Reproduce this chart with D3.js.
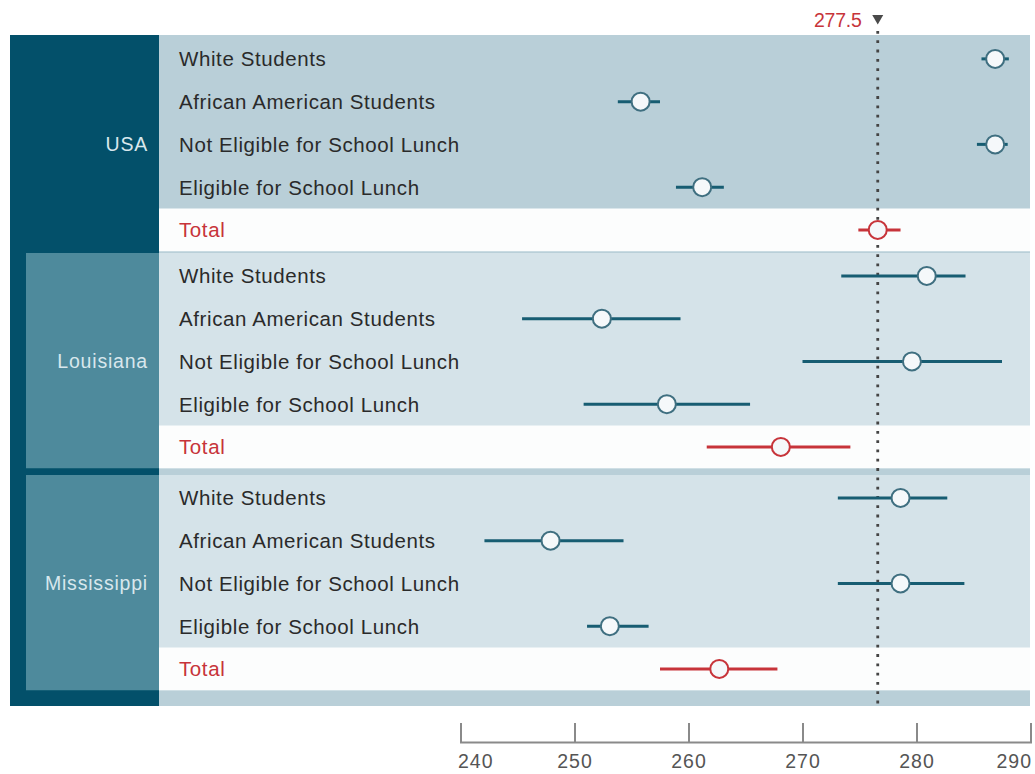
<!DOCTYPE html>
<html>
<head>
<meta charset="utf-8">
<script src="https://cdn.jsdelivr.net/npm/d3@7"></script>
<style>
  html, body { margin: 0; padding: 0; background: #ffffff; }
  svg { display: block; font-family: "Liberation Sans", Arial, sans-serif; }
</style>
</head>
<body>
<svg id="chart" width="1035" height="774"></svg>
<script>
// ---- data ----
const groups = ["USA", "Louisiana", "Mississippi"];
const categories = ["White Students", "African American Students", "Not Eligible for School Lunch", "Eligible for School Lunch", "Total"];

const usaMean = [286.9, 255.8, 286.9, 261.2, 276.6];
const usaLow  = [285.7, 253.8, 285.3, 258.9, 274.9];
const usaHigh = [288.1, 257.5, 288.0, 263.1, 278.6];

const laMean = [280.9, 252.4, 279.6, 258.1, 268.1];
const laLow  = [273.4, 245.4, 270.0, 250.8, 261.6];
const laHigh = [284.3, 259.3, 287.5, 265.4, 274.2];

const msMean = [278.6, 247.9, 278.6, 253.1, 262.7];
const msLow  = [273.1, 242.1, 273.1, 251.1, 257.5];
const msHigh = [282.7, 254.3, 284.2, 256.5, 267.8];

const tickValues = [240, 250, 260, 270, 280, 290];
const refValue = 276.6;      // position of the dotted reference line as drawn
const refLabel = "277.5";

// ---- layout ----
const svg = d3.select("#chart");
const rowH = 42.75;
const sectionTops = [37.5, 254.5, 476.5];
const panelLeft = 10, labelColRight = 159, plotRight = 1030;
const panelTop = 35, panelBottom = 706;
const FS = 20.5, LS = 0.6;

const C = {
  dark: "#03506a",
  inner: "#4e8a9c",
  usaBg: "#b9cfd8",
  lightBg: "#d5e3e9",
  totalBg: "#fcfdfd",
  teal: "#175d72",
  tealStroke: "#3f6f80",
  red: "#c7343a",
  text: "#2a2a2a",
  axis: "#8a8a8a",
  axisText: "#555"
};

const x = d3.scaleLinear().domain([240, 290]).range([460.5, 1030.5]);

const series = [
  { mean: usaMean, low: usaLow, high: usaHigh },
  { mean: laMean,  low: laLow,  high: laHigh },
  { mean: msMean,  low: msLow,  high: msHigh }
];

const yScales = sectionTops.map(t => d3.scaleBand().domain(categories).range([t, t + rowH * categories.length]));

// ---- backgrounds ----
svg.append("rect").attr("x", panelLeft).attr("y", panelTop)
  .attr("width", labelColRight - panelLeft).attr("height", panelBottom - panelTop).attr("fill", C.dark);
svg.append("rect").attr("x", labelColRight).attr("y", panelTop)
  .attr("width", plotRight - labelColRight).attr("height", panelBottom - panelTop).attr("fill", C.usaBg);

groups.forEach((g, gi) => {
  const y = yScales[gi];
  const top = y.range()[0], bot = y.range()[1];
  if (gi > 0) {
    svg.append("rect").attr("x", 26).attr("y", top - 1.5)
      .attr("width", labelColRight - 26).attr("height", bot - top + 1.5).attr("fill", C.inner);
    svg.append("rect").attr("x", labelColRight).attr("y", top - 1.5)
      .attr("width", plotRight - labelColRight).attr("height", bot - top + 1.5).attr("fill", C.lightBg);
  }
  // total row
  svg.append("rect").attr("x", labelColRight).attr("y", y("Total"))
    .attr("width", plotRight - labelColRight).attr("height", y.bandwidth()).attr("fill", C.totalBg);

  // group label, centred on the middle row
  const mid = categories[2];
  svg.append("text")
    .attr("x", 148).attr("y", y(mid) + y.bandwidth() / 2)
    .attr("text-anchor", "end").attr("dominant-baseline", "central")
    .attr("font-size", 19.5).attr("letter-spacing", 0.8)
    .attr("fill", "#d8e7ed")
    .text(g);

  // category labels
  categories.forEach((c) => {
    svg.append("text")
      .attr("x", 179).attr("y", y(c) + y.bandwidth() / 2)
      .attr("dominant-baseline", "central")
      .attr("font-size", FS).attr("letter-spacing", LS)
      .attr("fill", c === "Total" ? C.red : C.text)
      .text(c);
  });
});

// ---- reference line ----
const rx = x(refValue);
svg.append("line").attr("x1", rx).attr("x2", rx).attr("y1", 31).attr("y2", 704)
  .attr("stroke", "#444").attr("stroke-width", 2.8).attr("stroke-dasharray", "2.8,6.5");
svg.append("path")
  .attr("d", d3.line()([[rx - 5.5, 15], [rx + 5.5, 15], [rx, 24.5]]) + "Z")
  .attr("fill", "#4a4a4a");
svg.append("text").attr("x", rx - 16).attr("y", 27)
  .attr("text-anchor", "end").attr("font-size", 19.5).attr("fill", C.red)
  .attr("letter-spacing", "-0.2")
  .text(refLabel);

// ---- error bars & points ----
groups.forEach((g, gi) => {
  const y = yScales[gi];
  const s = series[gi];
  categories.forEach((c, ci) => {
    const cy = y(c) + y.bandwidth() / 2;
    const isTotal = c === "Total";
    svg.append("line")
      .attr("x1", x(s.low[ci])).attr("x2", x(s.high[ci]))
      .attr("y1", cy).attr("y2", cy)
      .attr("stroke", isTotal ? C.red : C.teal).attr("stroke-width", 3);
    svg.append("circle")
      .attr("cx", x(s.mean[ci])).attr("cy", cy).attr("r", 9)
      .attr("fill", "#f5f8fa")
      .attr("stroke", isTotal ? C.red : C.tealStroke).attr("stroke-width", 2);
  });
});

// ---- axis ----
const axis = d3.axisBottom(x).tickValues(tickValues).tickFormat(d3.format("d"))
  .tickSizeInner(-19).tickSizeOuter(-19).tickPadding(12);
const ag = svg.append("g").attr("transform", "translate(0,742)").call(axis);
ag.selectAll("path, line").attr("stroke", C.axis).attr("stroke-width", 2);
ag.selectAll("text").attr("font-size", 19.5).attr("fill", C.axisText)
  .attr("letter-spacing", 1)
  .attr("font-family", "'Liberation Sans', Arial, sans-serif")
  .attr("text-anchor", (d, i, n) => i === 0 ? "start" : (i === n.length - 1 ? "end" : "middle"))
  .attr("dx", (d, i, n) => i === 0 ? -3 : (i === n.length - 1 ? 1 : 0));
</script>
</body>
</html>
